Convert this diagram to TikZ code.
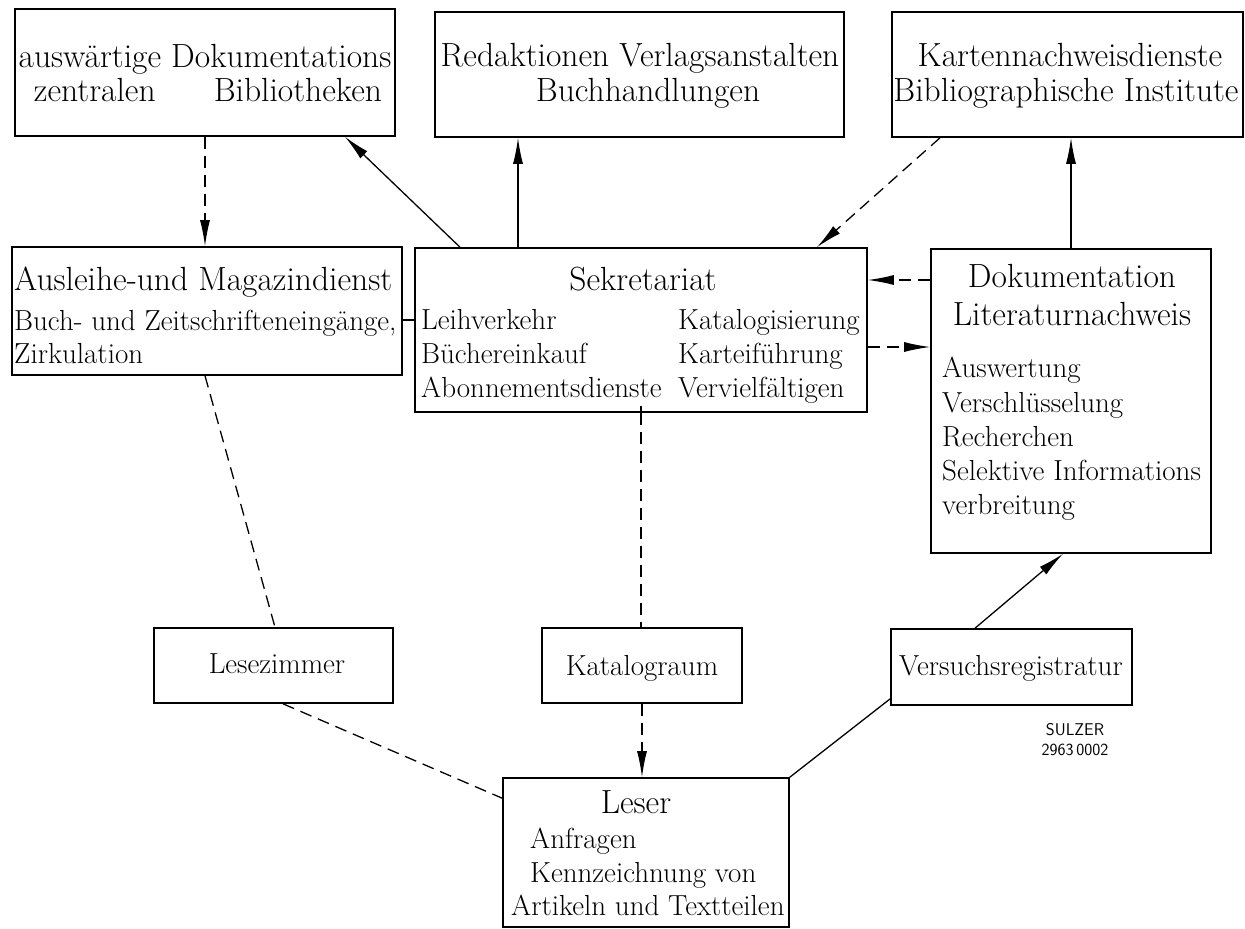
\documentclass[tikz,border=0pt]{standalone}
\usepackage{fontspec}
\usepackage{tikz}
\usetikzlibrary{positioning,calc,arrows.meta}

\begin{document}
\begin{tikzpicture}[
        x=1pt, y=-1pt, % one unit per pixel of the original sheet, y runs downwards
        % Define a style for the framed boxes
        box_node/.style={draw,line width=1.6pt,inner sep=0pt},
        % Define a style for the large headings inside the boxes
        head_text/.style={font=\fontsize{33.5}{38}\selectfont,inner sep=0pt,anchor=base},
        % Define a style for the smaller lines of the boxes
        item_text/.style={font=\fontsize{29}{34}\selectfont,inner sep=0pt,anchor=base west},
        % Define a style for the sheet number
        code_text/.style={font=\sffamily\fontsize{17}{19}\selectfont,inner sep=0pt,anchor=base},
        % Define the connector styles
        solid_arrow/.style={line width=1.3pt,-{Latex[length=26pt,width=10pt]}},
        dashed_line/.style={line width=1.3pt,dash pattern=on 12pt off 7pt}
    ]

    % Fix the size of the sheet
    \useasboundingbox (0,0) rectangle (1245,929);

    % Draw the top row of boxes
    \node[box_node,minimum width=380pt,minimum height=127pt] (ausw) at (205,72.5) {};
    \node[box_node,minimum width=409pt,minimum height=125pt] (redak) at (639.5,74.5) {};
    \node[box_node,minimum width=351pt,minimum height=125pt] (karte) at (1067.5,74.5) {};

    % Draw the middle row of boxes
    \node[box_node,minimum width=390pt,minimum height=128pt] (ausl) at (207,311) {};
    \node[box_node,minimum width=452pt,minimum height=164pt] (sekr) at (641,330) {};
    \node[box_node,minimum width=280pt,minimum height=304pt] (doku) at (1071,401) {};

    % Draw the lower boxes
    \node[box_node,minimum width=239pt,minimum height=75pt] (lese) at (273.5,665.5) {};
    \node[box_node,minimum width=200pt,minimum height=75pt] (kata) at (642,665.5) {};
    \node[box_node,minimum width=241pt,minimum height=76pt] (vers) at (1011.5,667) {};
    \node[box_node,minimum width=286pt,minimum height=149pt] (leser) at (646,852.5) {};

    % Texts of the top row
    \node[head_text] (ausw1) at (205,67) {auswärtige Dokumentations};
    \node[head_text] (ausw2) at (208,101) {\makebox[348pt]{zentralen\hfill Bibliotheken}};
    \node[head_text] (redak1) at (640,66) {Redaktionen Verlagsanstalten};
    \node[head_text] (redak2) at (648,101) {Buchhandlungen};
    \node[head_text] (karte1) at (1070,66) {Kartennachweisdienste};
    \node[head_text] (karte2) at (1066,101) {Bibliographische Institute};

    % Texts of the middle row
    \node[head_text,anchor=base west] (ausl1) at (14,290) {Ausleihe-und Magazindienst};
    \node[item_text] (ausl2) at (14,330) {Buch- und Zeitschrifteneingänge,};
    \node[item_text] (ausl3) at (14,363) {Zirkulation};

    \node[head_text] (sekr1) at (643,290) {Sekretariat};
    \node[item_text] (sekr2) at (421,329) {Leihverkehr};
    \node[item_text] (sekr3) at (421,363) {Büchereinkauf};
    \node[item_text] (sekr4) at (421,397) {Abonnementsdienste};
    \node[item_text] (sekr5) at (678,329) {Katalogisierung};
    \node[item_text] (sekr6) at (678,363) {Karteiführung};
    \node[item_text] (sekr7) at (678,397) {Vervielfältigen};

    \node[head_text] (doku1) at (1072,287) {Dokumentation};
    \node[head_text] (doku2) at (1072,325) {Literaturnachweis};
    \node[item_text] (doku3) at (942,377) {Auswertung};
    \node[item_text] (doku4) at (942,412) {Verschlüsselung};
    \node[item_text] (doku5) at (942,446) {Recherchen};
    \node[item_text] (doku6) at (942,480) {Selektive Informations};
    \node[item_text] (doku7) at (942,514) {verbreitung};

    % Texts of the lower boxes
    \node[item_text,anchor=base] (lese1) at (277,673) {Lesezimmer};
    \node[item_text,anchor=base] (kata1) at (642,675) {Katalograum};
    \node[item_text,anchor=base] (vers1) at (1011,675) {Versuchsregistratur};
    \node[head_text] (leser1) at (636,813) {Leser};
    \node[item_text] (leser2) at (530,848) {Anfragen};
    \node[item_text] (leser3) at (530,882) {Kennzeichnung von};
    \node[item_text] (leser4) at (511,915) {Artikeln und Textteilen};

    % Sheet number
    \node[code_text] (sulzer) at (1075,735) {\addfontfeature{LetterSpace=8}SULZER};
    \node[code_text] (number) at (1075,755) {2963\,0002};

    % Connectors between the top and middle rows
    \draw[dashed_line,solid_arrow] (ausw.south) -- (ausw.south |- ausl.north);
    \draw[solid_arrow] ([xshift=-181pt]sekr.north) -- ([xshift=140pt]ausw.south);
    \draw[solid_arrow] ([xshift=-123pt]sekr.north) -- ([xshift=-123pt]sekr.north |- redak.south);
    \draw[dashed_line,solid_arrow] ([xshift=-127.5pt]karte.south) -- ([xshift=176pt]sekr.north);
    \draw[solid_arrow] (doku.north) -- (doku.north |- karte.south);

    % Connectors within the middle row
    \draw[line width=1.3pt] ([yshift=-9pt]ausl.east) -- ([yshift=-9pt]ausl.east -| sekr.west);
    \draw[dashed_line,solid_arrow] ([yshift=121pt]doku.west) -- ([yshift=121pt]doku.west -| sekr.east);
    \draw[dashed_line,solid_arrow] ([yshift=-17pt]sekr.east) -- ([yshift=-17pt]sekr.east -| doku.west);

    % Connectors down to the lower boxes
    \draw[dashed_line] ([xshift=-2pt]ausl.south) -- ([xshift=1.5pt]lese.north);
    \draw[line width=1.3pt] ([yshift=7pt]sekr.south) -- ([yshift=-5pt]sekr.south);
    \draw[dashed_line] (sekr.south) -- (sekr.south |- kata.north);
    \draw[dashed_line,solid_arrow] (kata.south) -- (kata.south |- leser.north);
    \draw[dashed_line] ([xshift=9.5pt]lese.south) -- ([yshift=-21pt]leser.north west);
    \draw[line width=1.3pt] ([yshift=7pt]vers.south west) -- (leser.north east);
    \draw[solid_arrow] ([xshift=-36.5pt]vers.north) -- ([xshift=-8pt]doku.south);

\end{tikzpicture}
\end{document}
